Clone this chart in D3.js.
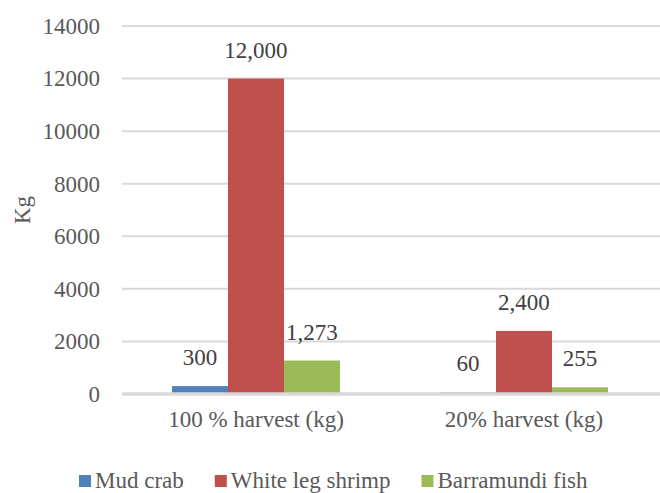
<!DOCTYPE html>
<html>
<head>
<meta charset="utf-8">
<script src="https://cdn.jsdelivr.net/npm/d3@7"></script>
</head>
<body style="margin:0; background:#fff">
<svg id="chart" width="660" height="493"></svg>
<script>
const categories = ["100 % harvest (kg)", "20% harvest (kg)"];
const seriesNames = ["Mud crab", "White leg shrimp", "Barramundi fish"];
const mudCrab = [300, 60];
const whiteLegShrimp = [12000, 2400];
const barramundi = [1273, 255];
const yTicks = [0, 2000, 4000, 6000, 8000, 10000, 12000, 14000];

const seriesValues = [mudCrab, whiteLegShrimp, barramundi];
const colors = ["#4F81BD", "#C0504D", "#9BBB59"];
const textColor = "#595959";
const serif = '"Liberation Serif"';
const fontSize = "23px";

const width = 660;
const height = 493;
const margin = { top: 26, right: 2, bottom: 99, left: 122 };

const svg = d3.select("#chart");

const x0 = d3.scaleBand()
  .domain(categories)
  .range([margin.left, width - margin.right])
  .paddingInner(0.373)
  .paddingOuter(0.1865);

const x1 = d3.scaleBand()
  .domain(seriesNames)
  .range([0, x0.bandwidth()]);

const y = d3.scaleLinear()
  .domain([0, 14000])
  .range([height - margin.bottom, margin.top]);

// Gridlines (zero line drawn later, over the bars)
svg.append("g")
  .selectAll("line")
  .data(yTicks.filter(d => d > 0))
  .enter()
  .append("line")
  .attr("x1", margin.left)
  .attr("x2", width)
  .attr("y1", d => y(d))
  .attr("y2", d => y(d))
  .attr("stroke", "#D9D9D9")
  .attr("stroke-width", 2);

// Y axis
const yAxis = d3.axisLeft(y).tickValues(yTicks).tickSize(0).tickPadding(0).tickFormat(d3.format("d"));
svg.append("g")
  .attr("transform", `translate(100, 0)`)
  .call(yAxis)
  .call(g => g.select(".domain").remove())
  .selectAll("text")
  .style("font-family", serif)
  .style("font-size", fontSize)
  .attr("fill", textColor);

svg.append("text")
  .attr("transform", `translate(30, ${(y(0) + y(14000)) / 2}) rotate(-90)`)
  .attr("text-anchor", "middle")
  .style("font-family", serif)
  .style("font-size", fontSize)
  .attr("fill", textColor)
  .text("Kg");

// Bars
const groups = svg.selectAll(".group")
  .data(categories)
  .enter()
  .append("g")
  .attr("class", "group")
  .attr("transform", d => `translate(${x0(d)}, 0)`);

groups.selectAll("rect")
  .data((d, i) => seriesNames.map((s, j) => ({ s, j, v: seriesValues[j][i] })))
  .enter()
  .append("rect")
  .attr("x", d => x1(d.s))
  .attr("y", d => y(d.v))
  .attr("width", x1.bandwidth())
  .attr("height", d => y(0) - y(d.v))
  .attr("fill", d => colors[d.j]);

groups.selectAll(".label")
  .data((d, i) => seriesNames.map((s, j) => ({ s, j, v: seriesValues[j][i] })))
  .enter()
  .append("text")
  .attr("class", "label")
  .attr("x", d => x1(d.s) + x1.bandwidth() / 2)
  .attr("y", d => y(d.v) - 21)
  .attr("text-anchor", "middle")
  .style("font-family", serif)
  .style("font-size", fontSize)
  .attr("fill", "#404040")
  .text(d => d3.format(",")(d.v));

// Zero line
svg.append("line")
  .attr("x1", margin.left)
  .attr("x2", width)
  .attr("y1", y(0))
  .attr("y2", y(0))
  .attr("stroke", "#D9D9D9")
  .attr("stroke-width", 3.5);

// X axis
const xAxis = d3.axisBottom(x0).tickSize(0).tickPadding(0);
svg.append("g")
  .attr("transform", `translate(0, ${y(0) + 17})`)
  .call(xAxis)
  .call(g => g.select(".domain").remove())
  .selectAll("text")
  .style("font-family", serif)
  .style("font-size", fontSize)
  .attr("fill", textColor);

// Legend
const legend = svg.append("g").attr("transform", "translate(79, 475)");
let lx = 0;
seriesNames.forEach((name, i) => {
  const item = legend.append("g").attr("transform", `translate(${lx}, 0)`);
  item.append("rect")
    .attr("width", 12)
    .attr("height", 12)
    .attr("fill", colors[i]);
  const t = item.append("text")
    .attr("x", 16)
    .attr("y", 13)
    .style("font-family", serif)
    .style("font-size", fontSize)
    .attr("fill", textColor)
    .text(name);
  lx += 16 + t.node().getComputedTextLength() + 31;
});
</script>
</body>
</html>
